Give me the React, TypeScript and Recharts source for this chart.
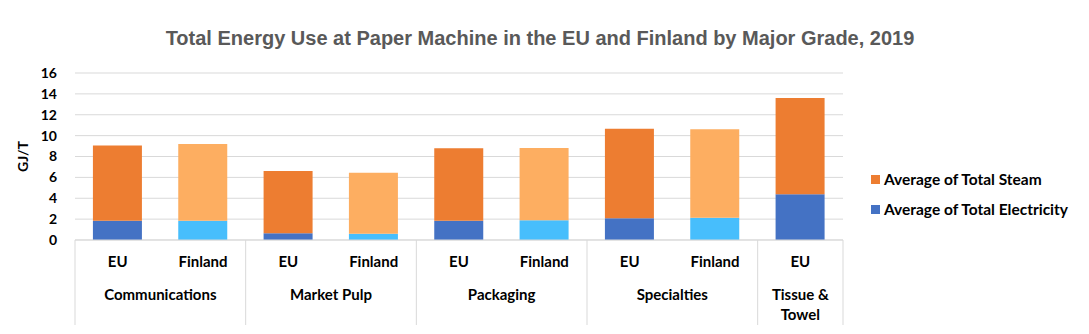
import React from 'react';
import { BarChart, Bar, XAxis, YAxis, CartesianGrid, Cell } from 'recharts';

const groups = ['Communications', 'Communications', 'Market Pulp', 'Market Pulp', 'Packaging', 'Packaging', 'Specialties', 'Specialties', 'Tissue & Towel'];
const regions = ['EU', 'Finland', 'EU', 'Finland', 'EU', 'Finland', 'EU', 'Finland', 'EU'];
const electricity = [1.85, 1.85, 0.65, 0.6, 1.85, 1.9, 2.08, 2.14, 4.38];
const steam = [7.2, 7.35, 5.95, 5.85, 6.93, 6.92, 8.57, 8.48, 9.22];
const yTicks = [0, 2, 4, 6, 8, 10, 12, 14, 16];
const seriesNames = ['Average of Total Steam', 'Average of Total Electricity'];
const title = 'Total Energy Use at Paper Machine in the EU and Finland by Major Grade, 2019';
const yLabel = 'GJ/T';

const COLORS = {
  euElec: '#4472C4',
  finElec: '#47BEFC',
  euSteam: '#ED7D31',
  finSteam: '#FDAE61',
};

const data = regions.map((r, i) => ({
  idx: i,
  region: r,
  group: groups[i],
  electricity: electricity[i],
  steam: steam[i],
}));

const FONT = 'Lato, "Open Sans", sans-serif';

function wrapWords(label: string, maxWidth: number, charW: number): string[] {
  const words = label.split(' ');
  const lines: string[] = [];
  let cur = '';
  for (const w of words) {
    const test = cur ? cur + ' ' + w : w;
    if (test.length * charW > maxWidth && cur) {
      lines.push(cur);
      cur = w;
    } else {
      cur = test;
    }
  }
  if (cur) lines.push(cur);
  return lines;
}

function XTick(props: any) {
  const { x, y, payload, width, visibleTicksCount } = props;
  const i = Number(payload.value);
  const count = visibleTicksCount || regions.length;
  const half = payload.offset && payload.offset > 0 ? payload.offset : width / count / 2;
  const isFirst = i === 0 || groups[i - 1] !== groups[i];
  const isLast = i === regions.length - 1;
  let n = 0;
  if (isFirst) {
    let j = i;
    while (j < groups.length && groups[j] === groups[i]) { n++; j++; }
  }
  const groupCenter = x + (n - 1) * half;
  const lines = isFirst ? wrapWords(groups[i], n * 2 * half - 10, 7.2) : [];
  return (
    <g>
      <text x={x} y={y + 27} textAnchor="middle" fontFamily={FONT} fontWeight={700} fontSize={15} fill="#000">
        {regions[i]}
      </text>
      {isFirst && lines.map((ln, k) => (
        <text key={k} x={groupCenter} y={y + 60 + k * 20} textAnchor="middle" fontFamily={FONT} fontWeight={700} fontSize={15} fill="#000">
          {ln}
        </text>
      ))}
      {isFirst && <line x1={x - half} x2={x - half} y1={y} y2={y + 85} stroke="#d9d9d9" strokeWidth={1} />}
      {isLast && <line x1={x + half} x2={x + half} y1={y} y2={y + 85} stroke="#d9d9d9" strokeWidth={1} />}
    </g>
  );
}

function LegendBox() {
  const items = [
    { name: seriesNames[0], color: COLORS.euSteam },
    { name: seriesNames[1], color: COLORS.euElec },
  ];
  return (
    <div style={{ position: 'absolute', left: 871, top: 164, fontFamily: FONT, fontWeight: 700, fontSize: 15.5, color: '#000' }}>
      {items.map((it) => (
        <div key={it.name} style={{ display: 'flex', alignItems: 'center', height: 30, whiteSpace: 'nowrap' }}>
          <span style={{ display: 'inline-block', width: 9, height: 9, background: it.color, marginRight: 4 }} />
          <span>{it.name}</span>
        </div>
      ))}
    </div>
  );
}

export default function App() {
  return (
    <div style={{ position: 'absolute', left: 0, top: 0, width: 1089, height: 334, background: '#fff' }}>
      <div
        style={{
          position: 'absolute',
          left: 0,
          top: 27,
          width: 1080,
          textAlign: 'center',
          fontFamily: '"Liberation Sans", Arial, sans-serif',
          fontWeight: 700,
          fontSize: 20,
          color: '#595959',
          whiteSpace: 'nowrap',
        }}
      >
        {title}
      </div>
      <BarChart
        width={1089}
        height={334}
        data={data}
        margin={{ top: 73, right: 246, left: 30, bottom: 0 }}
        barCategoryGap="21%"
        style={{ position: 'absolute', left: 0, top: 0 }}
      >
        <CartesianGrid vertical={false} stroke="#d9d9d9" />
        <XAxis
          dataKey="idx"
          type="category"
          interval={0}
          tickLine={false}
          tickSize={0}
          tickMargin={0}
          axisLine={{ stroke: '#d9d9d9' }}
          height={94}
          tick={<XTick />}
        />
        <YAxis
          width={45}
          domain={[0, 16]}
          ticks={yTicks}
          interval={0}
          axisLine={false}
          tickLine={false}
          tickMargin={12}
          tick={{ fontFamily: FONT, fontWeight: 700, fontSize: 14, fill: '#000' }}
          label={{
            value: yLabel,
            angle: -90,
            position: 'insideLeft',
            offset: -7,
            style: { fontFamily: FONT, fontWeight: 700, fontSize: 14, fill: '#000', textAnchor: 'middle' },
          }}
        />
        <Bar dataKey="electricity" name={seriesNames[1]} stackId="a" isAnimationActive={false}>
          {data.map((d) => (
            <Cell key={d.idx} fill={d.region === 'EU' ? COLORS.euElec : COLORS.finElec} />
          ))}
        </Bar>
        <Bar dataKey="steam" name={seriesNames[0]} stackId="a" isAnimationActive={false}>
          {data.map((d) => (
            <Cell key={d.idx} fill={d.region === 'EU' ? COLORS.euSteam : COLORS.finSteam} />
          ))}
        </Bar>
      </BarChart>
      <LegendBox />
    </div>
  );
}
